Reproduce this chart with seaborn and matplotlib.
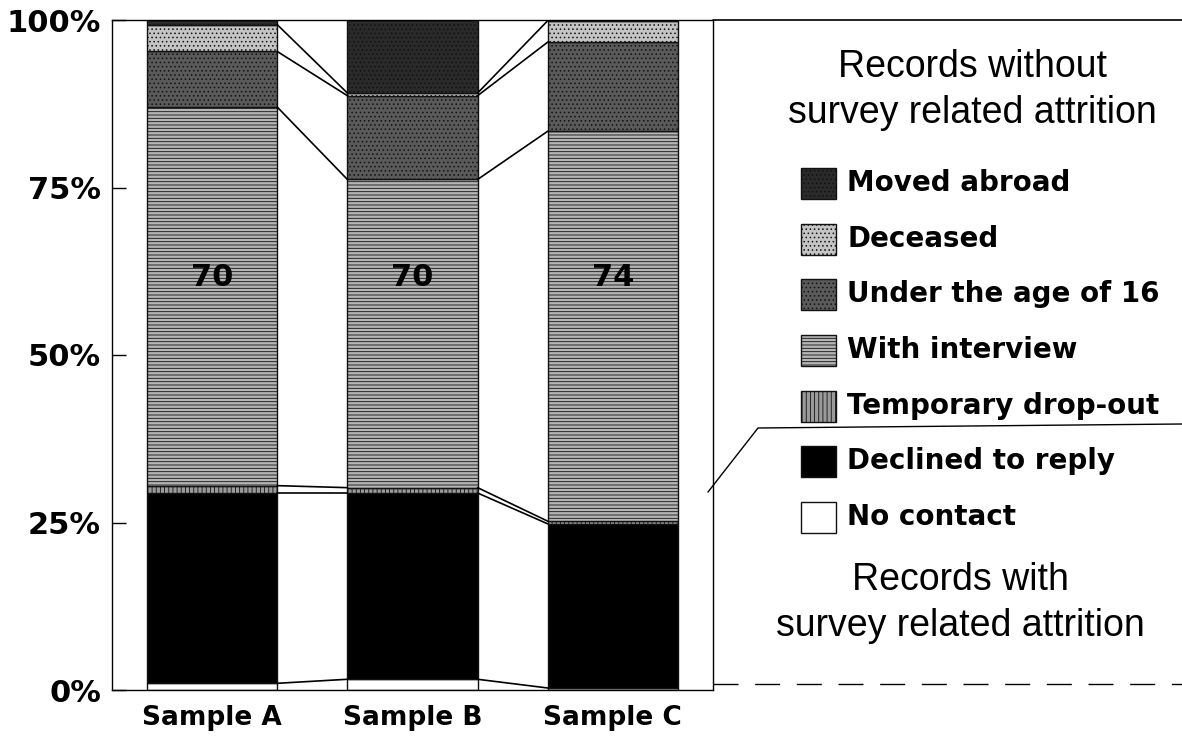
import numpy as np
import pandas as pd
import matplotlib
matplotlib.use('Agg')
import matplotlib.pyplot as plt
from matplotlib.patches import Rectangle
import seaborn as sns

# values (percent of records, bottom to top)
samples = ['Sample A', 'Sample B', 'Sample C']
no_contact = [1.0, 1.6, 0.3]
declined = [28.4, 27.8, 24.5]
temp_dropout = [1.1, 0.8, 0.4]
with_interview = [56.5, 46.0, 58.2]
under_16 = [8.3, 12.5, 13.3]
deceased = [4.0, 0.4, 3.2]
moved_abroad = [0.7, 10.9, 0.1]
interview_labels = ['70', '70', '74']
y_ticks = [0, 25, 50, 75, 100]
y_tick_labels = ['0%', '25%', '50%', '75%', '100%']

# name, values, facecolor, hatch  (stack order bottom -> top)
layers = [
    ('No contact', no_contact, 'white', None),
    ('Declined to reply', declined, 'black', None),
    ('Temporary drop-out', temp_dropout, '#9a9a9a', '||||'),
    ('With interview', with_interview, '#b4b4b4', '-----'),
    ('Under the age of 16', under_16, '#5a5a5a', '....'),
    ('Deceased', deceased, '#c4c4c4', '....'),
    ('Moved abroad', moved_abroad, '#2a2a2a', '....'),
]

sns.set_style('ticks')
plt.rcParams['font.family'] = ['DejaVu Sans']
plt.rcParams['hatch.linewidth'] = 0.6
for key in ['text.color', 'axes.labelcolor', 'xtick.color', 'ytick.color', 'axes.edgecolor']:
    plt.rcParams[key] = 'black'

W, H = 1182, 737
fig = plt.figure(figsize=(W / 100, H / 100), dpi=100)
fig.patch.set_facecolor('white')

# main stacked bar axes
ax = fig.add_axes([112 / W, 1 - 690 / H, (713 - 112) / W, (690 - 20) / H])
bar_w = 0.65
bottom = np.zeros(len(samples))
tops = []
for name, vals, fc, hatch in layers:
    df = pd.DataFrame({'sample': samples, 'value': vals})
    sns.barplot(data=df, x='sample', y='value', ax=ax, bottom=bottom,
                width=bar_w, color=fc, saturation=1, errorbar=None,
                edgecolor='#111111', linewidth=1.0, hatch=hatch)
    bottom = bottom + np.array(vals)
    tops.append(bottom.copy())

# connecting lines between neighbouring bars
for level in tops:
    for i in range(len(samples) - 1):
        ax.plot([i + bar_w / 2, i + 1 - bar_w / 2], [level[i], level[i + 1]],
                color='black', lw=1.2, zorder=3)

for i, lab in enumerate(interview_labels):
    ax.text(i, 61.5, lab, ha='center', va='center', fontsize=22,
            fontweight='bold', color='black', zorder=4)

ax.set_xlim(-0.5, 2.5)
ax.set_ylim(0, 100)
ax.set_xlabel('')
ax.set_ylabel('')
ax.set_yticks(y_ticks)
ax.set_yticklabels(y_tick_labels, fontsize=22, fontweight='bold')
ax.set_xticks(range(len(samples)))
ax.set_xticklabels(samples, fontsize=19, fontweight='bold')
ax.tick_params(axis='y', direction='in', length=10, width=1, pad=8)
ax.tick_params(axis='x', direction='in', length=6, width=1, pad=11)
for side in ['left', 'right', 'top', 'bottom']:
    ax.spines[side].set_visible(True)
    ax.spines[side].set_color('black')
    ax.spines[side].set_linewidth(1.0)

# right-hand legend panel, in pixel-like coordinates
axl = fig.add_axes([713 / W, 1 - 690 / H, (W - 713) / W, (690 - 20) / H])
axl.set_xlim(713, W)
axl.set_ylim(690, 20)
axl.axis('off')
axl.plot([713, W], [20, 20], color='black', lw=1.2, clip_on=False)
axl.plot([708, 758, W], [492, 428, 424], color='black', lw=1.0, clip_on=False)
axl.plot([713, W], [684, 684], color='black', lw=1.0, ls=(0, (18, 12)), clip_on=False)

head_kw = dict(ha='center', va='center', fontsize=27, family='Liberation Sans',
               color='black')
axl.text(972, 67, 'Records without', **head_kw)
axl.text(972, 113, 'survey related attrition', **head_kw)
axl.text(960, 580, 'Records with', **head_kw)
axl.text(960, 626, 'survey related attrition', **head_kw)

for idx, (name, vals, fc, hatch) in enumerate(layers[::-1]):
    y = 183 + idx * 55.7
    axl.add_patch(Rectangle((801, y - 15), 35, 31, facecolor=fc, hatch=hatch,
                            edgecolor='#111111', lw=1.0))
    axl.text(847, y, name, ha='left', va='center', fontsize=20,
             fontweight='bold', color='black')

fig.savefig('out.png', dpi=100, facecolor='white')
